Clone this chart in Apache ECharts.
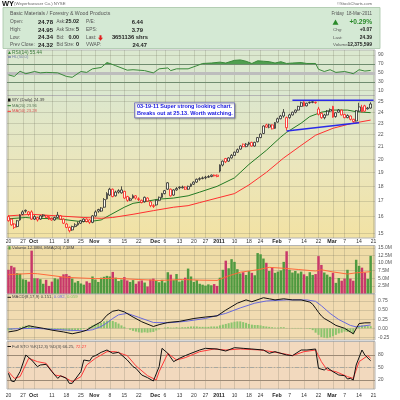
<!DOCTYPE html>
<html>
<head>
<meta charset="utf-8">
<script src="https://cdn.jsdelivr.net/npm/echarts@6.0.0/dist/echarts.min.js"></script>
<style>
html,body{margin:0;padding:0;background:#ffffff;}
#chart{width:400px;height:400px;}
</style>
</head>
<body>
<div id="chart"></div>
<script>
// ---------- DATA ----------
const dates = [
'2010-09-20','2010-09-21','2010-09-22','2010-09-23','2010-09-24','2010-09-27','2010-09-28','2010-09-29','2010-09-30',
'2010-10-01','2010-10-04','2010-10-05','2010-10-06','2010-10-07','2010-10-08','2010-10-11','2010-10-12','2010-10-13','2010-10-14','2010-10-15','2010-10-18','2010-10-19','2010-10-20','2010-10-21','2010-10-22','2010-10-25','2010-10-26','2010-10-27','2010-10-28','2010-10-29',
'2010-11-01','2010-11-02','2010-11-03','2010-11-04','2010-11-05','2010-11-08','2010-11-09','2010-11-10','2010-11-11','2010-11-12','2010-11-15','2010-11-16','2010-11-17','2010-11-18','2010-11-19','2010-11-22','2010-11-23','2010-11-24','2010-11-26','2010-11-29','2010-11-30',
'2010-12-01','2010-12-02','2010-12-03','2010-12-06','2010-12-07','2010-12-08','2010-12-09','2010-12-10','2010-12-13','2010-12-14','2010-12-15','2010-12-16','2010-12-17','2010-12-20','2010-12-21','2010-12-22','2010-12-23','2010-12-27','2010-12-28','2010-12-29','2010-12-30','2010-12-31',
'2011-01-03','2011-01-04','2011-01-05','2011-01-06','2011-01-07','2011-01-10','2011-01-11','2011-01-12','2011-01-13','2011-01-14','2011-01-18','2011-01-19','2011-01-20','2011-01-21','2011-01-24','2011-01-25','2011-01-26','2011-01-27','2011-01-28','2011-01-31',
'2011-02-01','2011-02-02','2011-02-03','2011-02-04','2011-02-07','2011-02-08','2011-02-09','2011-02-10','2011-02-11','2011-02-14','2011-02-15','2011-02-16','2011-02-17','2011-02-18','2011-02-22','2011-02-23','2011-02-24','2011-02-25','2011-02-28',
'2011-03-01','2011-03-02','2011-03-03','2011-03-04','2011-03-07','2011-03-08','2011-03-09','2011-03-10','2011-03-11','2011-03-14','2011-03-15','2011-03-16','2011-03-17','2011-03-18','2011-03-21'
];
const opens = [16.00,15.85,15.55,15.40,15.80,16.15,16.40,16.30,16.30,15.85,
15.95,15.85,16.05,16.05,16.00,15.90,15.80,15.95,16.05,15.85,
15.55,15.35,15.20,15.40,15.50,15.60,15.70,15.85,15.80,15.65,
16.05,16.45,16.35,16.60,17.15,17.40,17.80,17.35,17.60,17.55,
17.65,17.30,17.05,17.20,17.35,17.15,17.05,16.95,17.20,16.95,
16.70,16.75,17.05,17.25,17.50,18.25,17.80,17.40,17.75,17.95,
17.90,17.95,17.80,18.00,18.15,18.30,18.50,18.55,18.60,18.65,
18.70,18.80,18.80,19.10,19.55,20.05,19.85,20.10,20.30,20.55,
20.80,21.20,21.00,21.20,21.35,21.05,21.40,21.75,22.10,22.85,
22.65,22.85,22.55,23.10,23.40,23.65,22.60,23.50,23.75,24.00,
24.20,24.55,24.95,24.60,24.95,25.00,24.95,24.30,23.90,23.50,
23.75,24.10,24.55,23.60,24.00,24.20,23.80,23.50,23.65,23.35,
23.20,24.10,24.05,24.60,24.40,24.78];
const closes = [15.75,15.50,15.35,15.75,16.10,16.30,16.35,16.15,15.85,16.00,
15.80,16.05,16.10,15.95,15.85,15.80,15.95,16.10,15.85,15.60,
15.35,15.15,15.40,15.50,15.60,15.75,15.85,15.70,15.65,16.05,
16.30,16.35,16.55,17.10,17.50,17.80,17.30,17.60,17.70,17.75,
17.20,17.05,17.15,17.35,17.20,17.10,16.90,17.25,17.00,16.70,
16.65,17.05,17.25,17.50,17.70,17.80,17.35,17.75,17.85,17.90,
17.95,17.80,18.00,18.15,18.30,18.50,18.55,18.60,18.65,18.70,
18.80,18.75,18.70,19.55,19.85,19.80,20.10,20.30,20.55,20.75,
21.05,21.00,21.20,21.30,21.05,21.35,21.75,22.05,22.75,22.65,
22.85,22.50,23.05,23.40,23.65,24.00,23.50,23.75,24.00,24.20,
24.55,24.90,24.60,24.85,24.90,24.93,24.90,23.80,23.50,23.75,
24.10,24.25,23.55,23.95,24.20,23.75,23.50,23.70,23.35,23.15,
24.15,24.50,24.45,24.10,24.32,24.39];
const lows = [15.70,15.45,15.25,15.35,15.75,16.10,16.25,16.05,15.80,15.80,
15.70,15.80,15.95,15.90,15.80,15.75,15.75,15.90,15.80,15.55,
15.30,15.05,15.15,15.35,15.45,15.55,15.65,15.65,15.55,15.60,
16.00,16.25,16.30,16.55,17.10,17.35,17.25,17.30,17.50,17.50,
17.15,16.95,17.00,17.15,17.10,17.00,16.85,16.90,16.95,16.60,
16.55,16.70,17.00,17.20,17.45,17.75,17.30,17.35,17.70,17.80,
17.85,17.75,17.75,17.95,18.10,18.25,18.40,18.50,18.50,18.60,
18.65,18.70,18.65,19.00,19.45,19.70,19.80,20.05,20.25,20.50,
20.75,20.95,20.95,21.10,21.00,21.00,21.35,21.70,22.05,22.60,
22.55,22.45,22.50,23.05,23.35,23.50,22.35,23.40,23.70,23.90,
24.15,24.50,24.55,24.55,24.80,24.85,24.80,23.70,23.40,23.35,
23.70,24.00,23.50,23.50,23.95,23.70,23.45,23.45,23.25,23.05,
23.15,24.05,24.00,24.05,24.25,24.34];
const highs = [16.10,15.90,15.60,15.80,16.15,16.40,16.45,16.35,16.40,16.10,
16.00,16.10,16.15,16.10,16.05,15.95,16.00,16.30,16.10,15.90,
15.60,15.40,15.45,15.60,15.70,15.80,15.90,15.90,15.85,16.10,
16.40,16.50,16.60,17.20,17.60,17.90,17.85,17.70,17.80,18.00,
17.70,17.35,17.25,17.45,17.40,17.25,17.10,17.30,17.25,17.00,
16.80,17.10,17.30,17.55,17.75,18.30,17.85,17.80,17.95,18.00,
18.05,18.00,18.05,18.20,18.35,18.55,18.65,18.70,18.75,18.80,
18.85,18.85,18.85,19.60,19.90,20.10,20.15,20.40,20.60,20.85,
21.10,21.25,21.30,21.40,21.40,21.40,21.80,22.10,22.80,22.95,
22.95,22.90,23.10,23.50,23.75,24.30,23.60,23.85,24.05,24.25,
24.60,25.00,25.05,24.90,25.00,25.05,25.00,24.50,24.00,23.85,
24.20,24.35,24.60,24.00,24.30,24.25,23.85,23.80,23.70,23.40,
24.20,24.90,24.70,24.70,24.50,24.95];
const priorClose = 16.05;
// volume in millions of shares
const volumes = [7.8,9.1,8.6,6.7,6.5,4.7,4.5,3.9,14.1,5.0,
5.0,4.7,3.2,4.5,2.5,3.9,5.0,4.7,5.4,6.3,
6.4,5.8,4.9,3.6,4.1,3.3,2.9,4.0,3.5,5.6,
4.6,3.8,5.2,5.5,5.8,5.6,7.1,5.2,4.1,4.6,
5.4,4.3,3.8,4.4,3.2,4.0,4.3,3.6,2.3,4.6,
4.9,4.2,3.7,4.5,3.6,7.0,6.2,4.4,6.4,3.9,
4.3,5.2,8.2,5.6,3.8,4.4,3.2,2.9,2.6,3.0,
2.7,3.1,2.5,5.2,7.8,10.8,8.3,11.3,10.4,8.0,
6.6,7.0,6.1,7.4,6.8,6.0,13.3,12.9,11.5,10.1,
7.4,8.6,6.8,7.2,7.6,10.4,13.9,7.8,6.9,7.4,
6.6,7.2,6.3,5.7,7.0,6.1,6.4,12.3,9.4,6.9,
6.2,5.5,6.8,3.5,5.1,4.2,4.9,7.8,4.9,4.2,
11.1,9.1,8.5,6.9,4.8,12.38];
const volEma20 = [[0,6.2],[4,6.4],[8,6.6],[10,6.5],[20,5.3],[30,4.9],[37,5.0],[45,4.6],[52,4.3],[60,4.6],[66,4.4],[72,4.3],[76,5.8],[80,7.0],[86,7.8],[90,8.6],[95,8.3],[100,7.9],[106,7.4],[108,7.8],[112,7.1],[117,6.4],[120,6.8],[125,7.18]];
const ma20 = [[0,15.87],[6,15.95],[9,15.9],[17,15.87],[24,15.72],[28,15.7],[32,15.8],[35,16.1],[40,16.6],[43,16.85],[48,17.0],[52,17.13],[57,17.2],[62,17.35],[66,17.6],[72,18.0],[78,18.6],[83,19.6],[89,20.7],[94,21.8],[96,22.2],[101,23.0],[104,23.6],[108,24.0],[112,24.2],[117,24.2],[120,24.05],[125,23.96]];
const ma50 = [[0,16.05],[8,16.15],[17,16.05],[26,15.95],[32,15.9],[36,15.95],[43,16.15],[50,16.38],[57,16.6],[62,16.7],[66,16.9],[72,17.2],[78,17.5],[83,18.1],[89,19.0],[95,20.1],[101,21.1],[106,21.95],[112,22.55],[118,22.95],[125,23.28]];
const rsi14 = [[0,45.5],[2,42],[4,53.6],[6,48],[9,53],[11,50],[13,51],[17,50],[20,42],[22,40],[25,53],[27,51],[29,59],[32,62],[34,73],[35,71],[37,66],[41,56],[43,57],[47,55],[50,50],[52,59],[55,61],[56,55],[58,59],[62,59],[65,66],[67,71],[70,72],[73,74],[75,72],[78,78],[80,79],[82,76],[84,71],[86,77],[88,76],[90,75],[92,72],[94,75],[96,71],[98,72],[101,73],[103,71],[106,71],[107,58],[109,53],[111,57],[113,51],[116,53],[118,50],[119,48],[121,57],[123,54],[125,55.44]];
const macdLine = [[0,-0.10],[3,-0.06],[5,0.01],[7,0.07],[9,0.04],[12,0.0],[15,-0.05],[19,-0.10],[22,-0.15],[25,-0.10],[27,-0.05],[29,0.05],[32,0.18],[34,0.36],[36,0.47],[38,0.50],[40,0.45],[43,0.31],[46,0.18],[50,0.05],[52,0.10],[55,0.16],[59,0.19],[64,0.27],[68,0.31],[72,0.34],[75,0.50],[79,0.69],[82,0.78],[84,0.73],[88,0.84],[90,0.81],[92,0.78],[95,0.81],[98,0.78],[101,0.78],[104,0.72],[105,0.66],[106,0.55],[107,0.44],[108,0.34],[109,0.27],[111,0.18],[113,0.08],[116,0.0],[118,-0.10],[119,-0.15],[121,0.13],[123,0.15],[125,0.151]];
const macdSignal = [[0,-0.02],[9,0.0],[20,-0.05],[26,-0.07],[29,-0.04],[32,0.05],[34,0.15],[36,0.27],[38,0.37],[41,0.41],[45,0.30],[50,0.16],[55,0.15],[61,0.19],[68,0.27],[75,0.41],[80,0.56],[85,0.69],[89,0.75],[96,0.78],[103,0.78],[106,0.74],[108,0.62],[111,0.41],[114,0.24],[118,0.08],[120,0.04],[122,0.06],[125,0.092]];
const macdHist = [
-0.06,-0.05,-0.02,0.01,0.03,0.05,0.07,0.07,0.05,0.04,
0.02,0.01,0.0,-0.01,-0.02,-0.03,-0.03,-0.04,-0.05,-0.06,
-0.07,-0.08,-0.08,-0.07,-0.05,-0.04,-0.02,0.0,0.04,0.08,
0.11,0.13,0.15,0.19,0.21,0.22,0.20,0.17,0.13,0.08,
0.04,0.0,-0.04,-0.07,-0.09,-0.11,-0.12,-0.11,-0.12,-0.11,
-0.10,-0.06,-0.03,0.0,0.02,0.03,0.02,0.02,0.03,0.02,
0.03,0.03,0.04,0.05,0.05,0.05,0.04,0.04,0.04,0.04,
0.05,0.05,0.05,0.08,0.10,0.12,0.14,0.16,0.18,0.19,
0.19,0.17,0.15,0.12,0.10,0.09,0.09,0.08,0.06,0.05,
0.04,0.03,0.02,0.02,0.03,0.03,0.01,0.0,0.01,0.01,
0.01,0.01,0.0,-0.01,-0.02,-0.05,-0.12,-0.18,-0.24,-0.26,
-0.27,-0.25,-0.22,-0.18,-0.14,-0.12,-0.09,-0.10,-0.11,-0.16,
0.02,0.07,0.08,0.07,0.06,0.059];
const stoK = [[0,36],[1,17.6],[2,16],[4,40],[6,80],[8,68],[10,52],[11,56],[13,57.6],[15,40],[17,24],[18,30],[20,24],[21,12],[22,12],[25,40],[26,68],[28,65.6],[29,76],[30,78.4],[32,86.4],[34,92],[36,84],[38,86.4],[41,68],[43,52],[44,48],[46,32],[48,25.6],[50,17.6],[52,52],[53,96],[55,84],[57,64],[59,72],[61,78.4],[63,84],[66,92],[68,96],[72,94.4],[75,89.6],[78,97.6],[81,96],[84,94.4],[88,92],[90,84],[92,88],[96,80],[98,78.4],[101,92],[103,92],[106,94.4],[107,48],[109,44],[110,49.6],[112,40],[114,32],[116,30.4],[117,22.4],[118,24],[119,20],[120,56],[122,92],[123,80],[125,66.25]];
const stoD = [[0,40],[2,24],[4,28],[7,72],[10,64],[13,60],[16,32],[19,28],[22,16],[25,28],[27,56],[30,72],[34,88],[37,88],[41,78.4],[44,54],[48,30.4],[51,20],[52,40],[55,84],[58,68],[61,73.6],[66,88],[71,94.4],[75,92],[80,94.4],[87,92],[91,88],[96,81.6],[98,78.4],[102,88],[106,92],[108,64],[110,44],[113,40],[117,28],[119,24],[121,64],[124,78.4],[125,72.27]];
const resistanceLine = [[98,25.13],[126,25.13]];
const supportLine = [[96,22.31],[121,23.04]];
const priceTicks = [15,16,17,18,19,20,21,22,23,24,25];
const rsiTicks = [10,30,50,70,90];
const volTicks = [2.5,5,7.5,10,12.5,15];
const macdTicks = [-0.25,0,0.25,0.5,0.75];
const stoTicks = [20,50,80];
const dateTickIndex = [0,5,9,15,20,25,30,35,40,45,51,54,59,64,68,73,78,83,87,93,97,102,107,112,116,121,126];
const dateTickText = ['20','27','Oct','11','18','25','Nov','8','15','22','Dec','6','13','20','27','2011','10','18','24','Feb','7','14','22','Mar','7','14','21'];
const boldTicks = ['Oct','Nov','Dec','2011','Feb','Mar'];

// ---------- BUILD ----------
const F = '"Liberation Sans", Arial, sans-serif';
const tickSet = new Set(dateTickIndex);
const labelMap = {};
dateTickIndex.forEach((idx, k) => {
  const t = dateTickText[k];
  labelMap[dates[idx]] = boldTicks.includes(t) ? '{b|' + t + '}' : t;
});
const GRID_LINE = 'rgba(105,105,85,0.22)';
const L = 7, R = 25;
const grids = [
  {left:L, right:R, top:50, height:45.5, show:true, backgroundColor:'#dbe8cf', borderColor:'#b4b4b4', borderWidth:1},
  {left:L, right:R, top:95.5, height:142.5, show:true, borderColor:'#b4b4b4', borderWidth:1,
   backgroundColor:new echarts.graphic.LinearGradient(0,0,0,1,[{offset:0,color:'#dce7cd'},{offset:0.5,color:'#ebe6bc'},{offset:1,color:'#f2e2a3'}])},
  {left:L, right:R, top:245.5, height:48, show:true, backgroundColor:'#efdca7', borderColor:'#b4b4b4', borderWidth:1},
  {left:L, right:R, top:294, height:46, show:true, backgroundColor:'#f1dbb1', borderColor:'#b4b4b4', borderWidth:1},
  {left:L, right:R, top:341.5, height:47.5, show:true, backgroundColor:'#f2d9be', borderColor:'#b4b4b4', borderWidth:1}
];
function xAxisFor(gi, showLabel, margin) {
  return {
    type:'category', gridIndex:gi, data:dates, boundaryGap:true,
    axisLine:{show:false}, axisTick:{show:false},
    axisLabel:{show:showLabel, interval:(i)=>tickSet.has(i), formatter:(v)=>labelMap[v] || '',
      fontSize:5, color:'#333', margin:margin, fontFamily:F,
      rich:{b:{fontWeight:'bold', fontSize:5.3, color:'#222', fontFamily:F, padding:[0,2,0,0]}}},
    splitLine:{show:true, interval:(i)=>tickSet.has(i), alignWithLabel:true, lineStyle:{color:GRID_LINE, width:1}}
  };
}
function yAxisFor(gi, min, max, ticks, fmt) {
  return {
    type:'value', gridIndex:gi, min:min, max:max, position:'right',
    axisLine:{show:false}, axisTick:{show:false, customValues:ticks},
    axisLabel:{customValues:ticks, formatter:fmt, fontSize:5, color:'#555', margin:3, fontFamily:F},
    splitLine:{show:true, lineStyle:{color:GRID_LINE, width:1}}
  };
}
const lnTicks = priceTicks.map(v => Math.log(v));
const yAxes = [
  yAxisFor(0, -0.76, 101.2, rsiTicks, v => String(Math.round(v))),
  yAxisFor(1, Math.log(14.73), Math.log(25.61), lnTicks, v => String(Math.round(Math.exp(v)))),
  yAxisFor(2, 0, 15.79, volTicks, v => v.toFixed(1) + 'M'),
  yAxisFor(3, -0.321, 0.942, macdTicks, v => v.toFixed(2)),
  yAxisFor(4, -1.6, 112.4, stoTicks, v => String(Math.round(v)))
];
const xAxes = [xAxisFor(0,false,0), xAxisFor(1,true,1.5), xAxisFor(2,false,0), xAxisFor(3,false,0), xAxisFor(4,true,4)];

const HOLLOW = 'rgba(255,255,255,0.8)';
const candleData = opens.map((o, i) => {
  const c = closes[i];
  const pc = i > 0 ? closes[i-1] : priorClose;
  const col = c >= pc ? '#2a2a2a' : '#ff1a1a';
  return {value:[Math.log(o), Math.log(c), Math.log(lows[i]), Math.log(highs[i])],
          itemStyle:{color:HOLLOW, color0:col, borderColor:col, borderColor0:col, borderWidth:0.8}};
});
const volData = volumes.map((v, i) => {
  const pc = i > 0 ? closes[i-1] : priorClose;
  return {value:v, itemStyle:{color: closes[i] >= pc ? '#4f9a40' : '#c8386a'}};
});
const lnPairs = arr => arr.map(p => [p[0], Math.log(p[1])]);
const plain = (name, gi, data, color, width, z) => ({
  name, type:'line', xAxisIndex:gi, yAxisIndex:gi, data, symbol:'none', showSymbol:false,
  lineStyle:{color, width:width}, itemStyle:{color}, z:z || 3, silent:true
});
const ml = (items, z) => ({silent:true, symbol:['none','none'], label:{show:false}, z:z, animation:false, data:items});

const series = [
  Object.assign(plain('RSI', 0, rsi14, '#3a8a3a', 1, 4), {
    markLine: ml([
      {yAxis:70, lineStyle:{color:'#6f8c6f', width:1, type:'solid'}},
      {yAxis:30, lineStyle:{color:'#6f8c6f', width:1, type:'solid'}},
      {yAxis:50, lineStyle:{color:'#bdbdbd', width:3, type:'solid'}}
    ], 1)
  }),
  {name:'RSIfill', type:'line', xAxisIndex:0, yAxisIndex:0, data:rsi14, symbol:'none', silent:true,
   lineStyle:{width:0}, areaStyle:{origin:70, opacity:1}, z:3},
  {name:'WY', type:'candlestick', xAxisIndex:1, yAxisIndex:1, data:candleData, barWidth:2.4, z:4, silent:true},
  plain('MA20', 1, lnPairs(ma20), '#247a24', 1, 3),
  plain('MA50', 1, lnPairs(ma50), '#ff3030', 1, 3),
  plain('Resistance', 1, lnPairs(resistanceLine), '#2a2ae8', 1.5, 5),
  plain('Support', 1, lnPairs(supportLine), '#2a2ae8', 1.5, 5),
  {name:'Volume', type:'bar', xAxisIndex:2, yAxisIndex:2, data:volData, barCategoryGap:'15%', silent:true, z:2},
  plain('VolEMA', 2, volEma20, '#ff6a3c', 1, 3),
  {name:'Hist', type:'bar', xAxisIndex:3, yAxisIndex:3, data:macdHist, barCategoryGap:'30%', silent:true, z:2,
   itemStyle:{color:'#8cc46e'}},
  plain('MACD', 3, macdLine, '#111111', 1, 4),
  plain('Signal', 3, macdSignal, '#6a6adc', 1, 3),
  Object.assign(plain('%K', 4, stoK, '#111111', 1, 4), {
    markLine: ml([
      {yAxis:80, lineStyle:{color:'#9c8a76', width:1, type:'solid'}},
      {yAxis:20, lineStyle:{color:'#9c8a76', width:1, type:'solid'}},
      {yAxis:50, lineStyle:{color:'#a8a8a0', width:1, type:[4,2,1,2]}}
    ], 1)
  }),
  plain('%D', 4, stoD, '#ff3a3a', 1, 3)
];

// ---------- TEXT / GRAPHICS ----------
const G = [];
function T(x, y, text, size, opt) {
  opt = opt || {};
  const st = {text:text, font:(opt.bold ? 'bold ' : '') + size + 'px ' + F, fill:opt.color || '#555',
    textAlign:opt.align || 'left', align:opt.align || 'left', textVerticalAlign:'middle', verticalAlign:'middle'};
  if (opt.rich) st.rich = opt.rich;
  G.push({type:'text', x:x, y:y, silent:true, z:100, style:st});
}
// title line
T(2, 3.6, 'WY', 7.5, {bold:true, color:'#111'});
T(14, 3.8, '(Weyerhaeuser Co.) NYSE', 4.3, {color:'#666'});
T(372, 4.2, '\u00a9StockCharts.com', 4.2, {color:'#666', align:'right'});
// info box
G.push({type:'rect', silent:true, z:90, shape:{x:3, y:7.5, width:377, height:41},
  style:{fill:'#d4e9d4', stroke:'#a6c4a6', lineWidth:0.8}});
T(10, 14, 'Basic Materials / Forestry & Wood Products', 5.2, {color:'#555'});
const rowsY = [22, 30, 37.6, 45];
const col1 = [['Open:','24.78'],['High:','24.95'],['Low:','24.34'],['Prev Close:','24.32']];
const col2 = [['Ask:','25.02'],['Ask Size:','5'],['Bid:','0.00'],['Bid Size:','0']];
const col3 = [['P/E:','6.44',143],['EPS:','3.79',143],['Last:','3651136 shrs',148],['VWAP:','24.47',147]];
rowsY.forEach((y, k) => {
  T(10, y, col1[k][0], 4.8, {color:'#555'});
  T(53, y, col1[k][1], 6, {bold:true, color:'#222', align:'right'});
  T(56.5, y, col2[k][0], 4.5, {color:'#555'});
  T(79, y, col2[k][1], 5.4, {bold:true, color:'#222', align:'right'});
  T(86, y, col3[k][0], 4.8, {color:'#555'});
  T(col3[k][2], y, col3[k][1], 5.8, {bold:true, color:'#222', align:'right'});
});
G.push({type:'polygon', silent:true, z:100, shape:{points:[[99.5,35.3],[101.5,35.3],[101.5,37.8],[103,37.8],[100.5,40.8],[98,37.8],[99.5,37.8]]}, style:{fill:'#e02020'}});
T(372, 14, 'Friday  18-Mar-2011', 4.5, {color:'#555', align:'right'});
G.push({type:'polygon', silent:true, z:100, shape:{points:[[332.5,24.8],[335.5,19.4],[338.5,24.8]]}, style:{fill:'#2a8a2a'}});
T(372, 22.2, '+0.29%', 6.6, {bold:true, color:'#2a8a2a', align:'right'});
const rightRows = [['Chg:','+0.07'],['Last:','24.39'],['Volume:','12,375,599']];
rightRows.forEach((r, k) => {
  const y = rowsY[k+1];
  T(333, y, r[0], 4.4, {color:'#555'});
  T(372, y, r[1], 4.9, {bold:true, color:'#222', align:'right'});
});
// panel legends
G.push({type:'polygon', silent:true, z:100, shape:{points:[[8,54],[9.5,51],[11,54]]}, style:{fill:'#3a8a3a'}});
T(12, 52.4, 'RSI(14) 55.44', 4.8, {color:'#3a7a3a'});
G.push({type:'line', silent:true, z:100, shape:{x1:8, y1:57, x2:11, y2:57}, style:{stroke:'#7a86a8', lineWidth:1.5}});
T(12, 57, 'HL(50.0)', 4.2, {color:'#7a86a8'});

G.push({type:'rect', silent:true, z:100, shape:{x:8, y:98.5, width:2.5, height:3}, style:{fill:'#111'}});
T(12, 100, 'WY (Daily) 24.39', 4.3, {color:'#444'});
G.push({type:'line', silent:true, z:100, shape:{x1:7.5, y1:105.7, x2:11, y2:105.7}, style:{stroke:'#247a24', lineWidth:1}});
T(12, 105.7, 'MA(20) 23.96', 4.1, {color:'#5a7a5a'});
G.push({type:'line', silent:true, z:100, shape:{x1:7.5, y1:111.3, x2:11, y2:111.3}, style:{stroke:'#ff3030', lineWidth:1}});
T(12, 111.3, 'MA(50) 23.28', 4.1, {color:'#d85050'});

G.push({type:'rect', silent:true, z:100, shape:{x:8.5, y:246.3, width:2, height:3.2}, style:{fill:'#4f9a40'}});
T(12, 248, 'Volume 12.38M, EMA(20) 7.18M', 4.3, {color:'#444'});
G.push({type:'line', silent:true, z:100, shape:{x1:7.5, y1:297.3, x2:11, y2:297.3}, style:{stroke:'#111', lineWidth:1}});
T(12, 297.3, '{k|MACD(8,17,9) 0.151,} {b|0.092,} {g|0.059}', 4.3, {rich:{
  k:{fill:'#444', font:'4.3px ' + F}, b:{fill:'#6a6adc', font:'4.3px ' + F}, g:{fill:'#7cbc5c', font:'4.3px ' + F}}});
G.push({type:'line', silent:true, z:100, shape:{x1:7.5, y1:346.5, x2:11, y2:346.5}, style:{stroke:'#111', lineWidth:1}});
T(12, 346.5, '{k|Full STO %K(12,3) %D(3) 66.25,} {r|72.27}', 4.3, {rich:{
  k:{fill:'#444', font:'4.3px ' + F}, r:{fill:'#ff3a3a', font:'4.3px ' + F}}});

// annotation
G.push({type:'rect', silent:true, z:95, shape:{x:134.5, y:102.8, width:100, height:15},
  style:{fill:'#ffffff', stroke:'#6c6cb8', lineWidth:0.8, shadowBlur:1.5, shadowOffsetX:1, shadowOffsetY:1, shadowColor:'rgba(0,0,0,0.35)'}});
T(137, 106.6, '03-19-11 Super strong looking chart.', 5.5, {bold:true, color:'#1818e0'});
T(137, 113.8, 'Breaks out at 25.13. Worth watching.', 5.5, {bold:true, color:'#1818e0'});

const chart = echarts.init(document.getElementById('chart'), null, {renderer:'canvas'});
chart.setOption({
  animation:false,
  backgroundColor:'#ffffff',
  grid:grids,
  xAxis:xAxes,
  yAxis:yAxes,
  visualMap:[{type:'piecewise', show:false, seriesIndex:1, dimension:1,
    pieces:[{gt:70, lte:200, color:'#4f9f4f'}, {gte:-50, lte:70, color:'rgba(79,159,79,0)'}]}],
  series:series,
  graphic:{elements:G}
});
</script>
</body>
</html>
